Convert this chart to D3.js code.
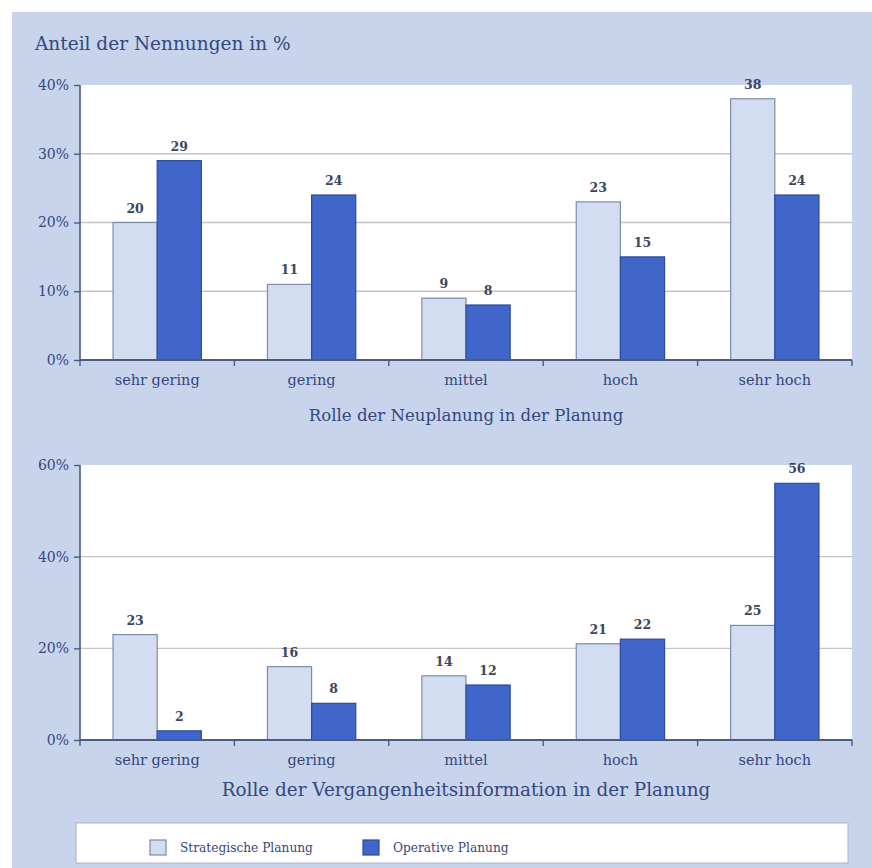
<!DOCTYPE html>
<html>
<head>
<meta charset="utf-8">
<script src="https://cdn.jsdelivr.net/npm/d3@7"></script>
<style>
  html, body { margin: 0; padding: 0; background: #ffffff; }
  svg { display: block; }
</style>
</head>
<body>
<svg id="chart" width="872" height="868"></svg>
<script>
// Rating categories shared by both panels
const categories = ["sehr gering", "gering", "mittel", "hoch", "sehr hoch"];
const seriesNames = ["Strategische Planung", "Operative Planung"];

// Panel 1: Rolle der Neuplanung (share of mentions, %)
const neuStrategisch = [20, 11, 9, 23, 38];
const neuOperativ    = [29, 24, 8, 15, 24];
const neuTicks = [0, 10, 20, 30, 40];

// Panel 2: Rolle der Vergangenheitsinformation (share of mentions, %)
const verStrategisch = [23, 16, 14, 21, 25];
const verOperativ    = [2, 8, 12, 22, 56];
const verTicks = [0, 20, 40, 60];

const titleText = "Anteil der Nennungen in %";
const xTitleTop = "Rolle der Neuplanung in der Planung";
const xTitleBottom = "Rolle der Vergangenheitsinformation in der Planung";

const colors = { bg: "#c8d4ec", text: "#34477e", light: "#d3ddf1", lightStroke: "#7d8bab",
                 dark: "#3f66c8", darkStroke: "#2c4a9c", grid: "#cbc4bc", axis: "#4d5b80" };
const FONT = "'DejaVu Serif', serif";

const svg = d3.select("#chart");

// page background with a narrow white margin on the left and top
svg.append("rect").attr("x", 12).attr("y", 12).attr("width", 860).attr("height", 856)
  .attr("fill", colors.bg);

svg.append("text").attr("x", 35).attr("y", 50)
  .attr("font-family", FONT).attr("font-size", 18.5).attr("fill", colors.text)
  .text(titleText);

function drawPanel(cfg) {
  const { top, bottom, left, right, maxV, ticks, strat, oper, xTitle, catY, titleY, titleSize } = cfg;
  const g = svg.append("g");

  g.append("rect").attr("x", left).attr("y", top)
    .attr("width", right - left).attr("height", bottom - top).attr("fill", "#ffffff");

  const y = d3.scaleLinear().domain([0, maxV]).range([bottom, top]);
  const x0 = d3.scaleBand().domain(categories).range([left, right]).padding(0);
  const bw = x0.bandwidth();
  const barW = bw * 0.286;
  const x1 = d3.scaleBand().domain(seriesNames).range([bw / 2 - barW, bw / 2 + barW]).padding(0);

  // horizontal gridlines
  g.append("g").selectAll("line").data(ticks.filter(t => t > 0 && t < maxV)).join("line")
    .attr("x1", left).attr("x2", right)
    .attr("y1", d => y(d)).attr("y2", d => y(d))
    .attr("stroke", colors.grid).attr("stroke-width", 1.3);

  const rows = categories.map((c, i) => ({ cat: c, vals: [
    { s: seriesNames[0], v: strat[i] }, { s: seriesNames[1], v: oper[i] } ] }));

  const grp = g.append("g").selectAll("g").data(rows).join("g")
    .attr("transform", d => `translate(${x0(d.cat)},0)`);

  grp.selectAll("rect").data(d => d.vals).join("rect")
    .attr("x", d => x1(d.s)).attr("y", d => y(d.v))
    .attr("width", x1.bandwidth()).attr("height", d => y(0) - y(d.v))
    .attr("fill", d => d.s === seriesNames[0] ? colors.light : colors.dark)
    .attr("stroke", d => d.s === seriesNames[0] ? colors.lightStroke : colors.darkStroke)
    .attr("stroke-width", 1.2);

  grp.selectAll("text").data(d => d.vals).join("text")
    .attr("x", d => x1(d.s) + x1.bandwidth() / 2).attr("y", d => y(d.v) - 10)
    .attr("text-anchor", "middle")
    .attr("font-family", FONT).attr("font-size", 12.5).attr("font-weight", "bold")
    .attr("fill", "#3b4560")
    .text(d => d.v);

  // y axis
  const yAxis = d3.axisLeft(y).tickValues(ticks).tickFormat(d => d + "%").tickSize(6).tickPadding(5);
  const ya = g.append("g").attr("transform", `translate(${left},0)`).call(yAxis);
  ya.select(".domain").attr("stroke", colors.axis).attr("stroke-width", 1.6).attr("d", `M0,${top}V${bottom}`);
  ya.selectAll(".tick line").attr("stroke", colors.axis).attr("stroke-width", 1.4);
  ya.selectAll(".tick text").attr("font-family", FONT).attr("font-size", 14).attr("fill", colors.text);

  // x axis with ticks at the band boundaries
  const xa = g.append("g").attr("transform", `translate(0,${bottom})`);
  xa.append("line").attr("x1", left).attr("x2", right).attr("y1", 0).attr("y2", 0)
    .attr("stroke", colors.axis).attr("stroke-width", 2);
  const bounds = categories.map(c => x0(c)).concat([right]);
  xa.selectAll("line.tk").data(bounds).join("line").attr("class", "tk")
    .attr("x1", d => d).attr("x2", d => d).attr("y1", 0).attr("y2", 6)
    .attr("stroke", colors.axis).attr("stroke-width", 1.4);
  xa.selectAll("text").data(categories).join("text")
    .attr("x", d => x0(d) + bw / 2).attr("y", catY - bottom)
    .attr("text-anchor", "middle")
    .attr("font-family", FONT).attr("font-size", 14.5).attr("fill", colors.text)
    .text(d => d);

  g.append("text").attr("x", (left + right) / 2).attr("y", titleY)
    .attr("text-anchor", "middle")
    .attr("font-family", FONT).attr("font-size", titleSize).attr("fill", colors.text)
    .text(xTitle);
}

drawPanel({ top: 85, bottom: 360, left: 80, right: 852, maxV: 40, ticks: neuTicks,
  strat: neuStrategisch, oper: neuOperativ, xTitle: xTitleTop, catY: 385, titleY: 421, titleSize: 16.6 });
drawPanel({ top: 465, bottom: 740, left: 80, right: 852, maxV: 60, ticks: verTicks,
  strat: verStrategisch, oper: verOperativ, xTitle: xTitleBottom, catY: 765, titleY: 796, titleSize: 18.4 });

// legend
const lg = svg.append("g");
lg.append("rect").attr("x", 76).attr("y", 823).attr("width", 772).attr("height", 40)
  .attr("fill", "#ffffff").attr("stroke", "#aab4c8").attr("stroke-width", 1);
const legendItems = [
  { name: seriesNames[0], fill: colors.light, stroke: colors.lightStroke, x: 150 },
  { name: seriesNames[1], fill: colors.dark, stroke: colors.darkStroke, x: 363 }
];
legendItems.forEach(it => {
  lg.append("rect").attr("x", it.x).attr("y", 840).attr("width", 16).attr("height", 15)
    .attr("fill", it.fill).attr("stroke", it.stroke).attr("stroke-width", 1.2);
  lg.append("text").attr("x", it.x + 30).attr("y", 852)
    .attr("font-family", FONT).attr("font-size", 12.2).attr("fill", colors.text)
    .text(it.name);
});
</script>
</body>
</html>
